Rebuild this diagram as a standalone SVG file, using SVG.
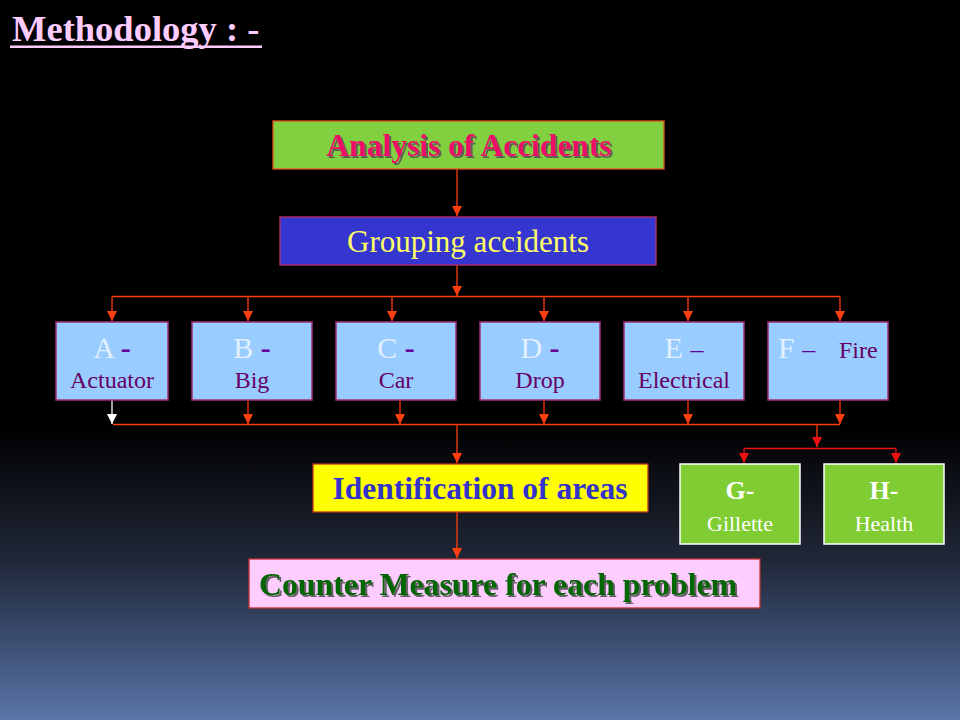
<svg xmlns="http://www.w3.org/2000/svg" width="960" height="720" viewBox="0 0 960 720">
<defs>
<linearGradient id="bg" gradientUnits="userSpaceOnUse" x1="0" y1="425" x2="0" y2="720">
<stop offset="0" stop-color="#000000"/>
<stop offset="0.45" stop-color="#1f2636"/>
<stop offset="0.75" stop-color="#3d5074"/>
<stop offset="1" stop-color="#5a75a8"/>
</linearGradient>
<marker id="ar" viewBox="0 0 10 10" refX="10" refY="5" markerWidth="10" markerHeight="10" markerUnits="userSpaceOnUse" orient="auto">
<path d="M0,0 L10,5 L0,10 z" fill="#ff3d0d"/>
</marker>
<marker id="arr" viewBox="0 0 10 10" refX="10" refY="5" markerWidth="10" markerHeight="10" markerUnits="userSpaceOnUse" orient="auto">
<path d="M0,0 L10,5 L0,10 z" fill="#ee1111"/>
</marker>
<marker id="arw" viewBox="0 0 10 10" refX="10" refY="5" markerWidth="10" markerHeight="10" markerUnits="userSpaceOnUse" orient="auto">
<path d="M0,0 L10,5 L0,10 z" fill="#ffffff"/>
</marker>
<filter id="sh" x="-5%" y="-20%" width="110%" height="140%">
<feDropShadow dx="2" dy="2" stdDeviation="0.6" flood-color="#555555" flood-opacity="0.9"/>
</filter>
</defs>
<style>
.serif{font-family:"Liberation Serif","Times New Roman",serif}
.c{fill:none;stroke:#ff3d0d;stroke-width:1.3}
.cr{fill:none;stroke:#ee1111;stroke-width:1.3}
.blue{fill:#99ccff;stroke:#a0307a;stroke-width:1.5}
.let{font-size:30px;fill:#e2f0ff}
.dash{font-size:30px;fill:#660099;font-weight:bold}
.sub{font-size:24px;fill:#660066}
.green{fill:#80cc33;stroke:#ffffff;stroke-width:1.5}
.gt{fill:#ffffff}
</style>
<rect x="0" y="0" width="960" height="720" fill="url(#bg)"/>

<g id="title">
<text x="12" y="41" class="serif" font-size="36.5" font-weight="bold" fill="#ffccff">Methodology : -</text>
<rect x="10" y="45.5" width="252" height="2.5" fill="#ffccff"/>
</g>

<g id="connectors">
<path class="c" d="M457,169 V216" marker-end="url(#ar)"/>
<path class="c" d="M457,265 V296" marker-end="url(#ar)"/>
<path class="c" d="M112,296.5 H840"/>
<path class="c" d="M112,296.5 V321" marker-end="url(#ar)"/>
<path class="c" d="M248,296.5 V321" marker-end="url(#ar)"/>
<path class="c" d="M392,296.5 V321" marker-end="url(#ar)"/>
<path class="c" d="M544,296.5 V321" marker-end="url(#ar)"/>
<path class="c" d="M688,296.5 V321" marker-end="url(#ar)"/>
<path class="c" d="M840,296.5 V321" marker-end="url(#ar)"/>
<path fill="none" stroke="#ffffff" stroke-width="1.3" d="M112,400 V424" marker-end="url(#arw)"/>
<path class="c" d="M248,400 V424" marker-end="url(#ar)"/>
<path class="c" d="M400,400 V424" marker-end="url(#ar)"/>
<path class="c" d="M544,400 V424" marker-end="url(#ar)"/>
<path class="c" d="M688,400 V424" marker-end="url(#ar)"/>
<path class="c" d="M840,400 V424" marker-end="url(#ar)"/>
<path class="c" d="M113,424.5 H840"/>
<path class="c" d="M457,424.5 V463" marker-end="url(#ar)"/>
<path class="c" d="M817,424.5 V447" marker-end="url(#arr)"/>
<path class="cr" d="M744,448.5 H896"/>
<path class="cr" d="M744,448.5 V463" marker-end="url(#arr)"/>
<path class="cr" d="M896,448.5 V463" marker-end="url(#arr)"/>
<path class="c" d="M457,512 V558" marker-end="url(#ar)"/>
</g>

<g id="analysis">
<rect x="273" y="121" width="391" height="48" fill="#80d040" stroke="#e05020" stroke-width="1.3"/>
<text x="469" y="156" text-anchor="middle" class="serif" font-size="31.5" font-weight="bold" fill="#ee1166" filter="url(#sh)">Analysis of Accidents</text>
</g>

<g id="grouping">
<rect x="280" y="217" width="376" height="48" fill="#3535d0" stroke="#c03070" stroke-width="1.3"/>
<text x="468" y="252" text-anchor="middle" class="serif" font-size="31" fill="#ffff66">Grouping accidents</text>
</g>

<g id="nodeA">
<rect class="blue" x="56" y="322" width="112" height="78"/>
<text x="112" y="358" text-anchor="middle" class="serif"><tspan class="let">A </tspan><tspan class="dash">-</tspan></text>
<text x="112" y="388" text-anchor="middle" class="serif sub">Actuator</text>
</g>
<g id="nodeB">
<rect class="blue" x="192" y="322" width="120" height="78"/>
<text x="252" y="358" text-anchor="middle" class="serif"><tspan class="let">B </tspan><tspan class="dash">-</tspan></text>
<text x="252" y="388" text-anchor="middle" class="serif sub">Big</text>
</g>
<g id="nodeC">
<rect class="blue" x="336" y="322" width="120" height="78"/>
<text x="396" y="358" text-anchor="middle" class="serif"><tspan class="let">C </tspan><tspan class="dash">-</tspan></text>
<text x="396" y="388" text-anchor="middle" class="serif sub">Car</text>
</g>
<g id="nodeD">
<rect class="blue" x="480" y="322" width="120" height="78"/>
<text x="540" y="358" text-anchor="middle" class="serif"><tspan class="let">D </tspan><tspan class="dash">-</tspan></text>
<text x="540" y="388" text-anchor="middle" class="serif sub">Drop</text>
</g>
<g id="nodeE">
<rect class="blue" x="624" y="322" width="120" height="78"/>
<text x="684" y="358" text-anchor="middle" class="serif"><tspan class="let">E </tspan><tspan font-size="26" fill="#660099">–</tspan></text>
<text x="684" y="388" text-anchor="middle" class="serif sub">Electrical</text>
</g>
<g id="nodeF">
<rect class="blue" x="768" y="322" width="120" height="78"/>
<text x="778" y="358" class="serif"><tspan class="let">F </tspan><tspan font-size="26" fill="#660099">–</tspan></text>
<text x="839" y="358" class="serif sub">Fire</text>
</g>

<g id="identification">
<rect x="313" y="464" width="335" height="48" fill="#ffff00" stroke="#c03020" stroke-width="1.3"/>
<text x="480" y="499" text-anchor="middle" class="serif" font-size="31.5" font-weight="bold" fill="#3333cc">Identification of areas</text>
</g>

<g id="nodeG">
<rect class="green" x="680" y="464" width="120" height="80"/>
<text x="740" y="499" text-anchor="middle" class="serif gt" font-size="26" font-weight="bold">G-</text>
<text x="740" y="531" text-anchor="middle" class="serif gt" font-size="22">Gillette</text>
</g>
<g id="nodeH">
<rect class="green" x="824" y="464" width="120" height="80"/>
<text x="884" y="499" text-anchor="middle" class="serif gt" font-size="26" font-weight="bold">H-</text>
<text x="884" y="531" text-anchor="middle" class="serif gt" font-size="22">Health</text>
</g>

<g id="counter">
<rect x="249" y="559" width="511" height="49" fill="#ffccff" stroke="#c03030" stroke-width="1.3"/>
<text x="259" y="595" class="serif" font-size="31.8" font-weight="bold" fill="#006600" filter="url(#sh)">Counter Measure for each problem</text>
</g>
</svg>
